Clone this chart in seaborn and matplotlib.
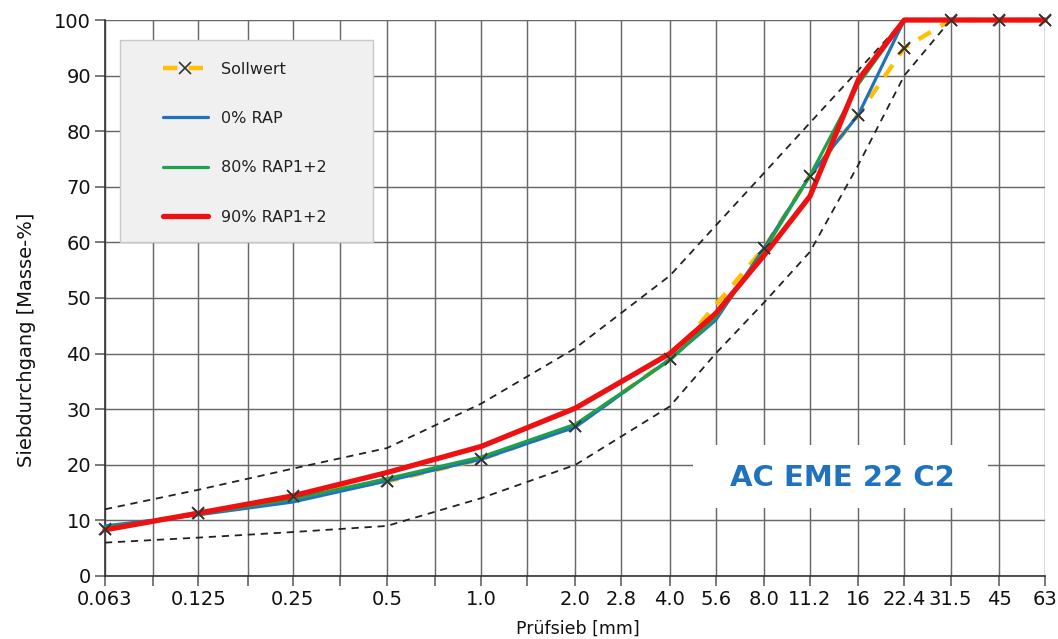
import matplotlib
matplotlib.use("Agg")
import matplotlib.pyplot as plt
from matplotlib.patches import Rectangle
from matplotlib.ticker import FixedLocator, FixedFormatter, NullFormatter
import seaborn as sns

# Sieve sizes [mm] on which the gradings are evaluated
sieves = [0.063, 0.125, 0.25, 0.5, 1.0, 2.0, 4.0, 5.6, 8.0, 11.2, 16, 22.4, 31.5, 45, 63]
rap_0 = [9.0, 11.0, 13.3, 17.1, 21.0, 26.8, 39.0, 46.0, 59.0, 72.0, 83.0, 100, 100, 100, 100]
rap_80 = [8.7, 11.1, 13.8, 17.5, 21.4, 27.3, 38.8, 46.5, 58.5, 72.0, 88.5, 100, 100, 100, 100]
rap_90 = [8.3, 11.3, 14.4, 18.6, 23.3, 30.2, 40.0, 47.2, 57.7, 68.3, 89.3, 100, 100, 100, 100]

# Target grading curve
target_sieves = [0.063, 0.125, 0.25, 0.5, 1.0, 2.0, 4.0, 8.0, 11.2, 16, 22.4, 31.5, 45, 63]
target = [8.5, 11.3, 14.4, 17.0, 21.0, 27.0, 39.0, 59.0, 72.0, 83.0, 95.0, 100, 100, 100]

# Grading envelope
upper_sieves = [0.063, 0.125, 0.25, 0.5, 1.0, 2.0, 4.0, 5.6, 8.0, 11.2, 16, 22.4]
upper = [12.0, 15.5, 19.3, 23.0, 31.0, 41.0, 54.0, 63.0, 72.5, 81.5, 91.0, 100]
lower_sieves = [0.063, 0.125, 0.25, 0.5, 1.0, 2.0, 4.0, 5.6, 8.0, 11.2, 16, 22.4, 31.5]
lower = [6.0, 6.9, 7.9, 9.0, 14.0, 20.0, 30.5, 40.0, 49.2, 58.3, 74.0, 90.0, 100]

# Axis ticks
grid_sieves = [0.063, 0.09, 0.125, 0.18, 0.25, 0.355, 0.5, 0.71, 1.0, 1.4, 2.0, 2.8,
               4.0, 5.6, 8.0, 11.2, 16, 22.4, 31.5, 45, 63]
labelled_sieves = [0.063, 0.125, 0.25, 0.5, 1.0, 2.0, 2.8, 4.0, 5.6, 8.0, 11.2, 16, 22.4, 31.5, 45, 63]
sieve_labels = ["0.063", "0.125", "0.25", "0.5", "1.0", "2.0", "2.8", "4.0", "5.6", "8.0",
                "11.2", "16", "22.4", "31.5", "45", "63"]
y_ticks = list(range(0, 101, 10))

series_labels = ["Sollwert", "0% RAP", "80% RAP1+2", "90% RAP1+2"]
mix_name = "AC EME 22 C2"

sns.set_theme(style="white")
plt.rcParams["font.family"] = ["DejaVu Sans"]

fig = plt.figure(figsize=(10.58, 6.39), dpi=100)
ax = fig.add_axes([0.0992, 0.0986, 0.9877 - 0.0992, 0.9687 - 0.0986])

ax.set_xscale("log")
ax.set_xlim(0.063, 63)
ax.set_ylim(0, 100)

# Envelope
for xs, ys in ((upper_sieves, upper), (lower_sieves, lower)):
    sns.lineplot(x=xs, y=ys, ax=ax, color="#222222", lw=1.3,
                 linestyle=(0, (4, 3.2)), zorder=3, clip_on=False)

# Target curve
sns.lineplot(x=target_sieves, y=target, ax=ax, color="#FFC000", lw=3.2,
             linestyle=(0, (3.2, 2.6)), marker="x", markersize=8,
             markeredgecolor="#333333", markeredgewidth=1.2,
             label=series_labels[0], zorder=3.5, clip_on=False)

sns.lineplot(x=sieves, y=rap_0, ax=ax, color="#1F72BE", lw=2.3,
             label=series_labels[1], zorder=4, clip_on=False)
sns.lineplot(x=sieves, y=rap_80, ax=ax, color="#1FA04A", lw=2.3,
             label=series_labels[2], zorder=4.2, clip_on=False)
sns.lineplot(x=sieves, y=rap_90, ax=ax, color="#EE1111", lw=3.8,
             label=series_labels[3], zorder=4.4, clip_on=False)

# Target markers above the measured curves
sns.scatterplot(x=target_sieves, y=target, ax=ax, marker="x", color="#333333",
                s=64, linewidth=1.2, zorder=6, clip_on=False, legend=False)

# Grid and ticks
ax.xaxis.set_major_locator(FixedLocator(labelled_sieves))
ax.xaxis.set_major_formatter(FixedFormatter(sieve_labels))
minor = [s for s in grid_sieves if s not in labelled_sieves]
ax.xaxis.set_minor_locator(FixedLocator(minor))
ax.xaxis.set_minor_formatter(NullFormatter())
ax.set_yticks(y_ticks)

ax.grid(True, which="both", axis="x", color="#686868", lw=1.05, zorder=0)
ax.grid(True, which="major", axis="y", color="#686868", lw=1.05, zorder=0)
ax.set_axisbelow(True)

for side in ("top", "right"):
    ax.spines[side].set_visible(False)
for side in ("left", "bottom"):
    ax.spines[side].set_color("#333333")
    ax.spines[side].set_linewidth(1.2)

ax.tick_params(axis="both", which="both", direction="out", length=7, width=1.1,
               color="#555555", labelsize=14, labelcolor="#111111", pad=3,
               bottom=True, left=True)

ax.set_xlabel("Prüfsieb [mm]", fontsize=12.5, color="#111111")
ax.set_ylabel("Siebdurchgang [Masse-%]", fontsize=14, color="#111111")
ax.xaxis.set_label_coords(0.503, -0.078)
ax.yaxis.set_label_coords(-0.073, 0.424)

# Legend panel
ax.add_patch(Rectangle((0.016, 0.6007), 0.269, 0.363, transform=ax.transAxes,
                       facecolor="#F0F0F0", edgecolor="#C8C8C8", lw=1.0, zorder=7))
handles, labels = ax.get_legend_handles_labels()
order = [labels.index(l) for l in series_labels]
leg = ax.legend([handles[i] for i in order], [labels[i] for i in order],
                loc="upper left", bbox_to_anchor=(0.0617, 0.925), frameon=False,
                borderpad=0, borderaxespad=0, handlelength=2.8, handletextpad=0.85,
                labelspacing=2.15, fontsize=11.5)
leg.set_zorder(8)
for t in leg.get_texts():
    t.set_color("#222222")

# Mix designation
ax.add_patch(Rectangle((0.6255, 0.1223), 0.3138, 0.1133, transform=ax.transAxes,
                       facecolor="white", edgecolor="none", zorder=7))
ax.text(0.784, 0.176, mix_name, transform=ax.transAxes, ha="center", va="center",
        fontsize=21, fontweight="bold", color="#1F72BE", zorder=8)

fig.savefig("out.png", dpi=100)
